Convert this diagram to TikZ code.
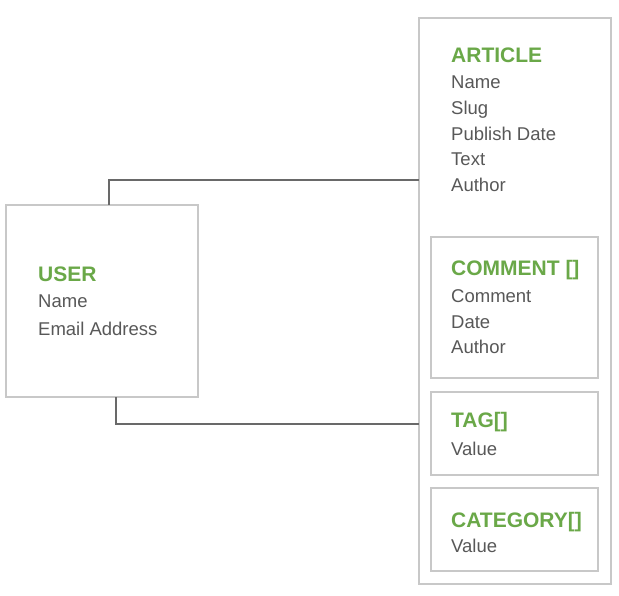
\documentclass[tikz,border=0pt]{standalone}
\usepackage{fontspec}
\setmainfont{Liberation Sans}
\definecolor{titlegreen}{RGB}{106,168,72}
\definecolor{bodygray}{RGB}{88,88,88}
\definecolor{boxgray}{RGB}{200,200,200}
\definecolor{linegray}{RGB}{105,105,105}
\begin{document}
\begin{tikzpicture}[x=1pt,y=-1pt,
  entbox/.style={draw=boxgray,line width=1.1pt,fill=white},
  ttl/.style={anchor=base west,inner sep=0pt,text=titlegreen,font=\fontsize{21}{25}\selectfont\bfseries},
  fld/.style={anchor=base west,inner sep=0pt,text=bodygray,font=\fontsize{18.5}{22}\selectfont},
  conn/.style={draw=linegray,line width=2pt}]
\useasboundingbox (0,0) rectangle (619,596);
% boxes
\path[entbox] (419,18) rectangle (611,584);
\node[inner sep=0pt,minimum width=192pt,minimum height=566pt] (article) at (515,301) {};
\path[entbox] (6,205) rectangle (198,397);
\node[inner sep=0pt,minimum width=192pt,minimum height=192pt] (user) at (102,301) {};
\path[entbox] (431,237) rectangle (598,378);
\node[inner sep=0pt,minimum width=167pt,minimum height=141pt] (comment) at (514.5,307.5) {};
\path[entbox] (431,392) rectangle (598,475);
\node[inner sep=0pt,minimum width=167pt,minimum height=83pt] (tag) at (514.5,433.5) {};
\path[entbox] (431,488) rectangle (598,571);
\node[inner sep=0pt,minimum width=167pt,minimum height=83pt] (category) at (514.5,529.5) {};
% connectors
\coordinate (c1) at (109,180);
\coordinate (c2) at (116,424);
\draw[conn] (user.north -| c1) -- (c1) -- (c1 -| article.west);
\draw[conn] (user.south -| c2) -- (c2) -- (c2 -| article.west);
% article
\node[ttl] (at) at (451,63) {ARTICLE};
\node[fld] (a1) at (451,89) {Name};
\node[fld] (a2) at (451,115) {Slug};
\node[fld] (a3) at (451,140.5) {Publish Date};
\node[fld] (a4) at (451,166) {Text};
\node[fld] (a5) at (451,192) {Author};
% user
\node[ttl] (ut) at (38,282) {USER};
\node[fld] (u1) at (38,308) {Name};
\node[fld] (u2) at (38,335.5) {Email Address};
% comment
\node[ttl] (ct) at (451,276) {COMMENT []};
\node[fld] (c1t) at (451,302.5) {Comment};
\node[fld] (c2t) at (451,328) {Date};
\node[fld] (c3t) at (451,353.5) {Author};
% tag
\node[ttl] (tt) at (451,427) {TAG[]};
\node[fld] (t1) at (451,455.5) {Value};
% category
\node[ttl] (kt) at (451,527) {CATEGORY[]};
\node[fld] (k1) at (451,552.5) {Value};
\end{tikzpicture}
\end{document}
